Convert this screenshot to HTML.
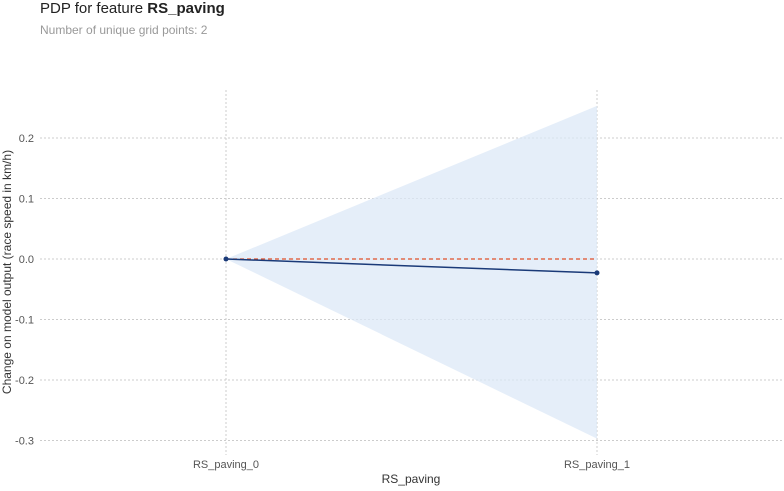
<!DOCTYPE html>
<html><head><meta charset="utf-8"><style>
body{margin:0;background:#fff;width:784px;height:486px;overflow:hidden;font-family:"Liberation Sans",sans-serif}
</style></head><body>
<svg width="784" height="486" xmlns="http://www.w3.org/2000/svg" font-family="Liberation Sans, sans-serif">
<text x="40" y="13" font-size="15" fill="#222">PDP for feature <tspan font-weight="bold">RS_paving</tspan></text>
<text x="40" y="34" font-size="12" fill="#999">Number of unique grid points: 2</text>
<g id="grid"></g><g id="marks"></g><g id="axes"></g>
<text x="411" y="483" font-size="12" fill="#333" text-anchor="middle">RS_paving</text>
<text transform="translate(11,272) rotate(-90)" font-size="12" fill="#333" text-anchor="middle">Change on model output (race speed in km/h)</text>
</svg>
<script>
const categories=["RS_paving_0","RS_paving_1"];
const pdpValues=[0,-0.023];
const upperBand=[0,0.253];
const lowerBand=[0,-0.297];
const yTicks=[0.2,0.1,0,-0.1,-0.2,-0.3];
const NS="http://www.w3.org/2000/svg";
const xPos=[226,597];
function x(i){return xPos[0]+(xPos[1]-xPos[0])*i/(categories.length-1);}
function y(v){return 259-v*605;}
function mk(t,a,p){const e=document.createElementNS(NS,t);for(const k in a)e.setAttribute(k,a[k]);p.appendChild(e);return e;}
const grid=document.getElementById('grid'),marks=document.getElementById('marks'),axes=document.getElementById('axes');
yTicks.forEach(v=>{
 const l=mk('line',{x1:40,x2:784,y1:y(v),y2:y(v),stroke:'#ccc','stroke-dasharray':'2,2'},grid);
 
 
 const t=mk('text',{x:34,y:y(v)+4,'font-size':11,fill:'#555','text-anchor':'end'},axes);
 t.textContent=v.toFixed(1);
 
 
});
categories.forEach((c,i)=>{
 const l=mk('line',{x1:x(i),x2:x(i),y1:90,y2:455,stroke:'#ccc','stroke-dasharray':'2,2'},grid);
 
 
 const t=mk('text',{x:x(i),y:468,'font-size':11,fill:'#555','text-anchor':'middle'},axes);
 t.textContent=c;
 
 
});
let pts=categories.map((c,i)=>x(i)+','+y(upperBand[i]));
for(let i=categories.length-1;i>=0;i--)pts.push(x(i)+','+y(lowerBand[i]));
const band=mk('polygon',{points:pts.join(' '),fill:'#dce8f7','fill-opacity':0.75},marks);


const base=mk('line',{x1:x(0),x2:x(categories.length-1),y1:y(0),y2:y(0),stroke:'#e0502a','stroke-dasharray':'4,3','stroke-width':1.2},marks);


const line=mk('polyline',{points:categories.map((c,i)=>x(i)+','+y(pdpValues[i])).join(' '),fill:'none',stroke:'#1a3a78','stroke-width':1.5},marks);


categories.forEach((c,i)=>{
 const p=mk('circle',{cx:x(i),cy:y(pdpValues[i]),r:2.5,fill:'#1a3a78'},marks);
 
 
});
</script>
</body></html>
